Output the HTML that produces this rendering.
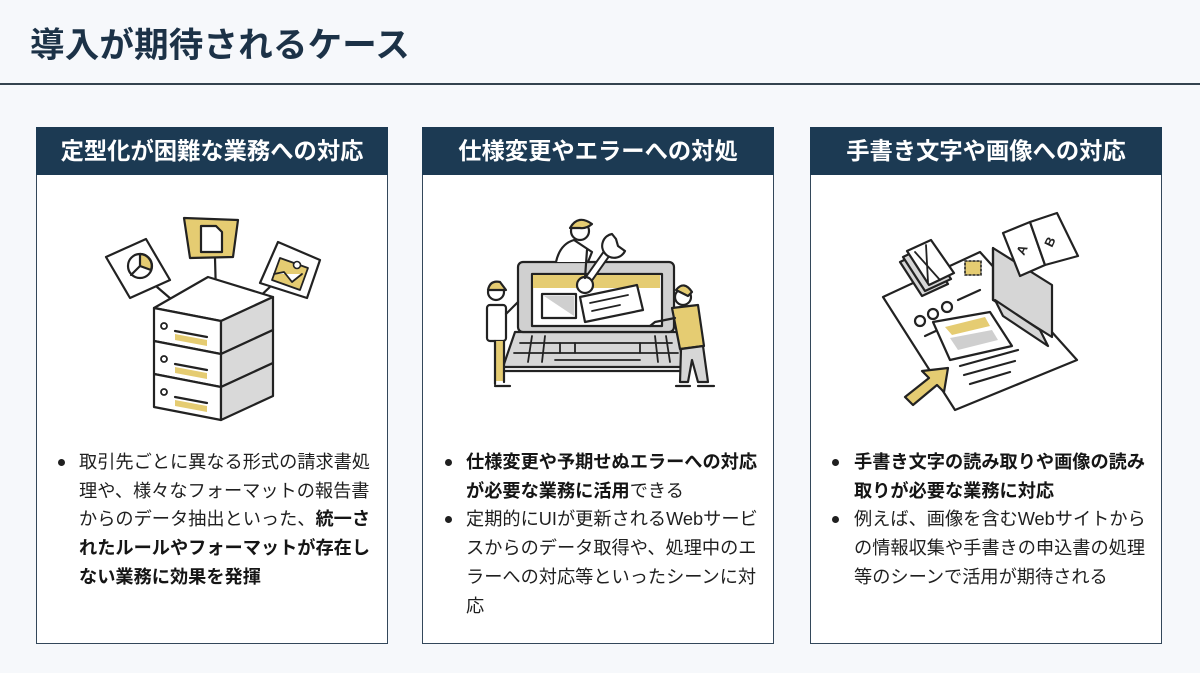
<!DOCTYPE html>
<html lang="ja">
<head>
<meta charset="utf-8">
<style>
  html,body{margin:0;padding:0;}
  body{width:1200px;height:673px;position:relative;overflow:hidden;background:#f6f8fb;
    font-family:"Liberation Sans","Noto Sans CJK JP",sans-serif;color:#1f1f1f;}
  .title{position:absolute;left:30px;top:25px;font-size:34.5px;line-height:42px;font-weight:bold;color:#1c3247;white-space:nowrap;letter-spacing:0.2px;}
  .rule{position:absolute;left:0;top:83px;width:1200px;height:2px;background:#34434f;}
  .card{position:absolute;top:127px;width:352px;height:517px;}
  .hd{position:absolute;left:0;top:0;width:352px;height:48px;background:#1c3a53;color:#fff;font-weight:bold;
    font-size:23.3px;line-height:49px;text-align:center;white-space:nowrap;}
  .bd{position:absolute;left:0;top:48px;width:352px;height:469px;box-sizing:border-box;background:#fff;
    border:1.5px solid #33475a;border-top:none;}
  .txt{position:absolute;font-size:18.2px;line-height:28.7px;white-space:nowrap;color:#1f1f1f;}
  .txt b{font-weight:bold;color:#151515;}
  .dot{position:absolute;width:7px;height:7px;border-radius:50%;background:#1f1f1f;}
</style>
</head>
<body>
<div class="title">導入が期待されるケース</div>
<div class="rule"></div>

<div class="card" style="left:36px;">
  <div class="hd">定型化が困難な業務への対応</div>
  <div class="bd"></div>
</div>
<div class="card" style="left:422px;">
  <div class="hd">仕様変更やエラーへの対処</div>
  <div class="bd"></div>
</div>
<div class="card" style="left:810px;">
  <div class="hd">手書き文字や画像への対応</div>
  <div class="bd"></div>
</div>

<!-- Card 1 text -->
<div class="dot" style="left:58px;top:459px;"></div>
<div class="txt" style="left:79px;top:448px;">取引先ごとに異なる形式の請求書処<br>理や、様々なフォーマットの報告書<br>からのデータ抽出といった、<b>統一さ</b><br><b>れたルールやフォーマットが存在し</b><br><b>ない業務に効果を発揮</b></div>

<!-- Card 2 text -->
<div class="dot" style="left:445px;top:459px;"></div>
<div class="dot" style="left:445px;top:516px;"></div>
<div class="txt" style="left:466px;top:448px;"><b>仕様変更や予期せぬエラーへの対応</b><br><b>が必要な業務に活用</b>できる<br>定期的にUIが更新されるWebサービ<br>スからのデータ取得や、処理中のエ<br>ラーへの対応等といったシーンに対<br>応</div>

<!-- Card 3 text -->
<div class="dot" style="left:832px;top:459px;"></div>
<div class="dot" style="left:832px;top:516px;"></div>
<div class="txt" style="left:854px;top:448px;"><b>手書き文字の読み取りや画像の読み</b><br><b>取りが必要な業務に対応</b><br>例えば、画像を含むWebサイトから<br>の情報収集や手書きの申込書の処理<br>等のシーンで活用が期待される</div>

<svg width="1200" height="673" viewBox="0 0 1200 673" style="position:absolute;left:0;top:0;" fill="none" stroke="#222" stroke-width="2.2" stroke-linejoin="round" stroke-linecap="round">
  <!-- ===== Illustration 1: server stack ===== -->
  <line x1="157" y1="287" x2="178" y2="305"/>
  <line x1="215" y1="258" x2="216" y2="295"/>
  <line x1="272" y1="285" x2="253" y2="303"/>
  <polygon points="106,257 146,239 170,280 130,298" fill="#fff"/>
  <circle cx="140" cy="266" r="12" fill="#fff"/>
  <path d="M140,266 L140,254 A12,12 0 0 1 151,270 Z" fill="#e5cc72"/>
  <line x1="140" y1="266" x2="131" y2="275"/>
  <polygon points="184,218 238,220 233,257 190,258" fill="#e5cc72"/>
  <polygon points="201,226 216,226 222,232 222,252 201,252" fill="#fff"/>
  <polygon points="278,242 320,260 307,298 260,283" fill="#fff"/>
  <polygon points="280,258 308,268 300,290 272,280" fill="#e5cc72" stroke-width="1.8"/>
  <circle cx="297" cy="265" r="3.5" fill="#fff" stroke-width="1.6"/>
  <path d="M274,274 L284,272 L292,282 L302,274" stroke-width="1.8" fill="#fff"/>
  <polygon points="208,277 273,297 221,321 154,308" fill="#fff"/>
  <g>
    <polygon points="154,308 221,321 221,354 154,341" fill="#fff"/>
    <polygon points="221,321 273,297 273,330 221,354" fill="#d9d9d9"/>
    <circle cx="164" cy="326" r="3" fill="#fff" stroke-width="1.8"/>
    <polygon points="175,334 207,340 207,346 175,340" fill="#e5cc72" stroke="none"/>
    <line x1="175" y1="331" x2="207" y2="337"/>
  </g>
  <g transform="translate(0,33)">
    <polygon points="154,308 221,321 221,354 154,341" fill="#fff"/>
    <polygon points="221,321 273,297 273,330 221,354" fill="#d9d9d9"/>
    <circle cx="164" cy="326" r="3" fill="#fff" stroke-width="1.8"/>
    <polygon points="175,334 207,340 207,346 175,340" fill="#e5cc72" stroke="none"/>
    <line x1="175" y1="331" x2="207" y2="337"/>
  </g>
  <g transform="translate(0,66)">
    <polygon points="154,308 221,321 221,354 154,341" fill="#fff"/>
    <polygon points="221,321 273,297 273,330 221,354" fill="#d9d9d9"/>
    <circle cx="164" cy="326" r="3" fill="#fff" stroke-width="1.8"/>
    <polygon points="175,334 207,340 207,346 175,340" fill="#e5cc72" stroke="none"/>
    <line x1="175" y1="331" x2="207" y2="337"/>
  </g>

  <!-- ===== Illustration 2: laptop + people ===== -->
  <polygon points="515,332 677,332 684,367 503,367" fill="#d6d6d6"/>
  <line x1="505" y1="371" x2="684" y2="371"/>
  <g stroke-width="1.8">
    <line x1="520" y1="343" x2="672" y2="343"/>
    <line x1="514" y1="353" x2="678" y2="353"/>
    <line x1="532" y1="336" x2="528" y2="362"/>
    <line x1="545" y1="336" x2="542" y2="362"/>
    <line x1="560" y1="343" x2="560" y2="353"/>
    <line x1="575" y1="343" x2="575" y2="353"/>
    <line x1="640" y1="343" x2="640" y2="353"/>
    <line x1="655" y1="336" x2="658" y2="362"/>
    <line x1="666" y1="336" x2="670" y2="362"/>
    <line x1="555" y1="360" x2="640" y2="360"/>
  </g>
  <rect x="518" y="262" width="156" height="70" rx="5" fill="#d0d0d0"/>
  <rect x="532" y="274" width="130" height="52" fill="#fff"/>
  <rect x="533" y="275" width="127" height="13" fill="#e5cc72" stroke="none"/>
  <rect x="542" y="294" width="34" height="24" fill="#fff"/>
  <polygon points="544,296 574,296 574,316" fill="#cfcfcf" stroke="none"/>
  <polygon points="580,297 637,285 643,310 585,322" fill="#fff"/>
  <line x1="590" y1="303" x2="628" y2="295" stroke-width="1.8"/>
  <line x1="592" y1="311" x2="620" y2="305" stroke-width="1.8"/>
  <!-- wrench -->
  <path d="M588,280 L612,246" stroke-width="9" stroke="#222"/>
  <path d="M588,280 L612,246" stroke-width="5" stroke="#fff"/>
  <circle cx="585" cy="285" r="8" fill="#fff"/>
  <path d="M612,234 A12,12 0 1 0 625,251 L618,246 L616,239 Z" fill="#fff"/>
  <!-- woman on top -->
  <path d="M556,262 Q560,244 574,240 L592,252 L588,262" fill="#fff"/>
  <circle cx="580" cy="231" r="9" fill="#fff"/>
  <path d="M570,228 Q578,214 592,224 Q586,229 580,228 Z" fill="#e5cc72"/>
  <line x1="587" y1="250" x2="585" y2="278"/>
  <!-- left person -->
  <circle cx="496" cy="292" r="8" fill="#fff"/>
  <path d="M488,290 Q490,280 500,282 L506,290 Z" fill="#e5cc72"/>
  <rect x="487" y="305" width="19" height="36" rx="3" fill="#fff"/>
  <line x1="506" y1="314" x2="518" y2="302"/>
  <rect x="495" y="341" width="9" height="40" fill="#e5cc72" stroke="none"/>
  <line x1="495" y1="341" x2="495" y2="384"/>
  <line x1="504" y1="341" x2="504" y2="382"/>
  <line x1="495" y1="386" x2="510" y2="386"/>
  <!-- right person -->
  <circle cx="683" cy="297" r="8" fill="#fff"/>
  <path d="M676,290 Q684,280 692,292 L688,296 Z" fill="#e5cc72"/>
  <polygon points="672,308 698,305 704,346 680,349" fill="#e5cc72"/>
  <path d="M675,318 L655,322 L650,326" />
  <polygon points="681,349 703,346 708,382 698,382 692,360 688,382 680,382" fill="#d6d6d6"/>
  <line x1="676" y1="386" x2="690" y2="386"/>
  <line x1="698" y1="386" x2="714" y2="386"/>

  <!-- ===== Illustration 3: documents ===== -->
  <polygon points="883,297 980,252 1077,360 955,410" fill="#fff"/>
  <polygon points="993,248 1052,285 1052,337 993,300" fill="#d6d6d6"/>
  <line x1="993" y1="248" x2="993" y2="300"/>
  <polygon points="995,300 1040,330 1048,346 1003,316" fill="#d6d6d6"/>
  <polygon points="1003,233 1030,222 1045,265 1020,276" fill="#fff"/>
  <polygon points="1030,222 1057,213 1078,256 1045,265" fill="#fff"/>
  <text x="1024" y="256" font-family="Liberation Sans, sans-serif" font-size="13" font-weight="bold" fill="#222" stroke="none" transform="rotate(-65 1024 256)">A</text>
  <text x="1052" y="248" font-family="Liberation Sans, sans-serif" font-size="13" font-weight="bold" fill="#222" stroke="none" transform="rotate(-65 1052 248)">B</text>
  <polygon points="900,262 925,250 948,284 922,296" fill="#d6d6d6"/>
  <polygon points="903,257 928,245 951,279 925,291" fill="#d6d6d6"/>
  <polygon points="907,251 931,240 954,273 929,285" fill="#fff"/>
  <line x1="915" y1="252" x2="940" y2="280" stroke-width="1.8"/>
  <line x1="926" y1="245" x2="928" y2="282" stroke-width="1.8"/>
  <rect x="965" y="261" width="16" height="14" fill="#e5cc72" stroke-dasharray="2 2" stroke-width="1.6"/>
  <circle cx="920" cy="321" r="5" fill="#fff"/>
  <circle cx="933" cy="314" r="5" fill="#fff"/>
  <circle cx="947" cy="307" r="5" fill="#fff"/>
  <line x1="958" y1="300" x2="980" y2="290"/>
  <line x1="925" y1="336" x2="968" y2="316"/>
  <polygon points="933,322 990,312 1012,346 950,360" fill="#fff"/>
  <polygon points="945,327 985,317 990,326 952,335" fill="#e5cc72" stroke="none"/>
  <polygon points="950,338 992,330 998,340 958,350" fill="#cfcfcf" stroke="none"/>
  <line x1="960" y1="366" x2="1018" y2="350"/>
  <line x1="964" y1="375" x2="1015" y2="361"/>
  <line x1="970" y1="384" x2="1010" y2="372"/>
  <polygon points="948,368 944,392 937,385 913,405 905,397 929,378 922,371" fill="#e5cc72"/>
</svg>
</body>
</html>
